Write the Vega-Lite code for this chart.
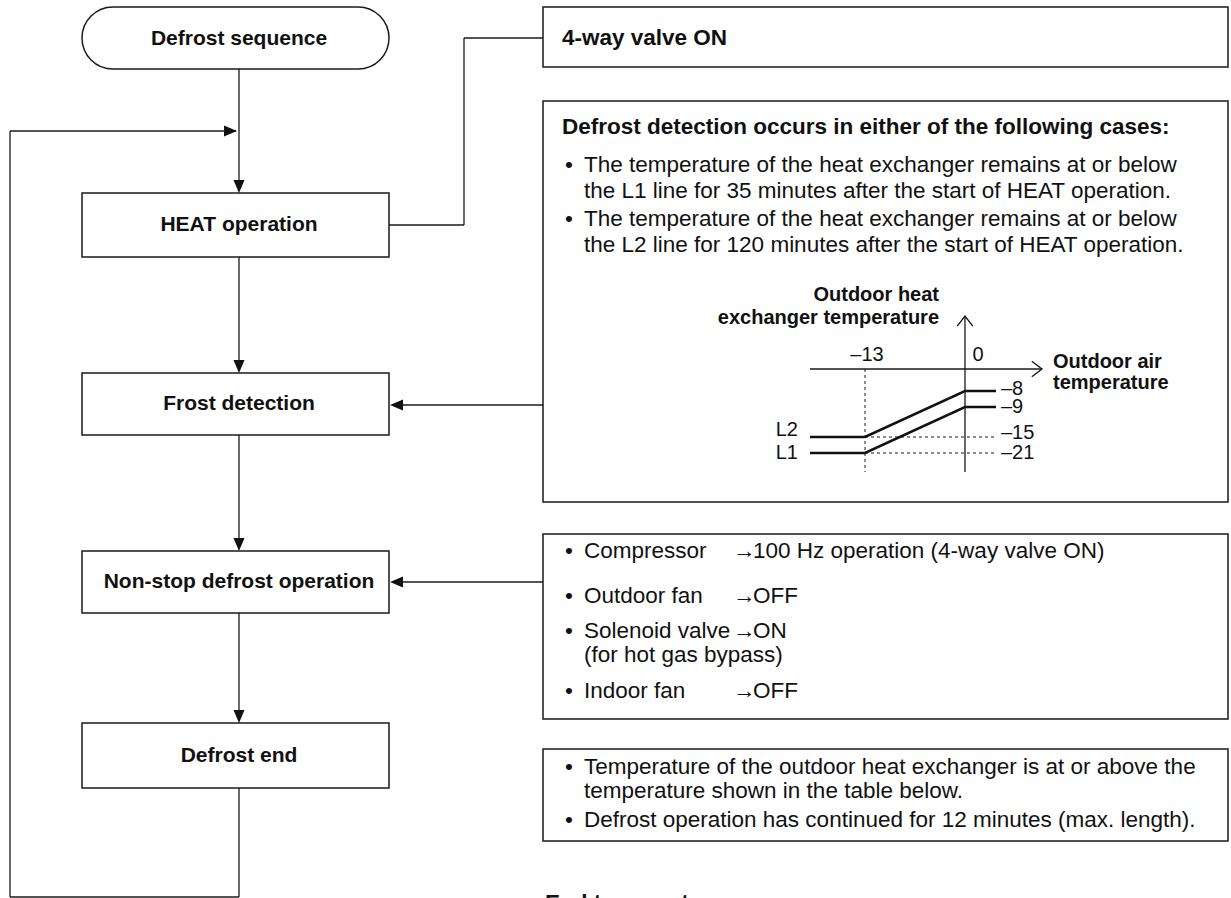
{
  "$schema": "https://vega.github.io/schema/vega-lite/v6.json",
  "width": 1231,
  "height": 898,
  "autosize": "none",
  "padding": 0,
  "background": "white",
  "config": {"view": {"stroke": null}, "text": {"font": "Liberation Sans", "color": "#111"}},
  "datasets": {
    "terminals": [{"name": "Defrost sequence", "x": 82, "x2": 389, "y": 7, "y2": 69}],
    "boxes": [
      {"name": "HEAT operation", "x": 82, "x2": 389, "y": 193, "y2": 257},
      {"name": "Frost detection", "x": 82, "x2": 389, "y": 373, "y2": 435},
      {"name": "Non-stop defrost operation", "x": 82, "x2": 389, "y": 551, "y2": 613},
      {"name": "Defrost end", "x": 82, "x2": 389, "y": 723, "y2": 788},
      {"name": "4-way valve", "x": 543, "x2": 1228, "y": 7, "y2": 67},
      {"name": "Defrost detection", "x": 543, "x2": 1228, "y": 101, "y2": 502},
      {"name": "Defrost actions", "x": 543, "x2": 1228, "y": 534, "y2": 719},
      {"name": "Defrost end conditions", "x": 543, "x2": 1228, "y": 749, "y2": 841}
    ],
    "links": [
      {"x": 239, "y": 69, "x2": 239, "y2": 190},
      {"x": 10, "y": 131, "x2": 236, "y2": 131},
      {"x": 10, "y": 131, "x2": 10, "y2": 897},
      {"x": 10, "y": 897, "x2": 239, "y2": 897},
      {"x": 239, "y": 788, "x2": 239, "y2": 897},
      {"x": 389, "y": 225, "x2": 464, "y2": 225},
      {"x": 464, "y": 225, "x2": 464, "y2": 38},
      {"x": 464, "y": 38, "x2": 543, "y2": 38},
      {"x": 239, "y": 257, "x2": 239, "y2": 370},
      {"x": 239, "y": 435, "x2": 239, "y2": 548},
      {"x": 239, "y": 613, "x2": 239, "y2": 720},
      {"x": 543, "y": 405, "x2": 393, "y2": 405},
      {"x": 543, "y": 582, "x2": 393, "y2": 582},
      {"x": 810, "y": 369, "x2": 1041, "y2": 369},
      {"x": 965, "y": 317, "x2": 965, "y2": 472}
    ],
    "arrows": [
      {"x": 239, "y": 193, "dir": "down"},
      {"x": 237, "y": 131, "dir": "right"},
      {"x": 239, "y": 373, "dir": "down"},
      {"x": 239, "y": 551, "dir": "down"},
      {"x": 239, "y": 723, "dir": "down"},
      {"x": 390, "y": 405, "dir": "left"},
      {"x": 390, "y": 582, "dir": "left"}
    ],
    "openArrows": [
      {"x": 965, "y": 316, "dir": "up"},
      {"x": 1042, "y": 369, "dir": "east"}
    ],
    "curves": [
      {"series": "L2", "x": 810, "y": 437},
      {"series": "L2", "x": 865, "y": 437},
      {"series": "L2", "x": 965, "y": 391},
      {"series": "L2", "x": 996, "y": 391},
      {"series": "L1", "x": 810, "y": 453},
      {"series": "L1", "x": 865, "y": 453},
      {"series": "L1", "x": 965, "y": 407},
      {"series": "L1", "x": 996, "y": 407}
    ],
    "guides": [
      {"x": 865, "y": 369, "x2": 865, "y2": 472},
      {"x": 865, "y": 437, "x2": 996, "y2": 437},
      {"x": 865, "y": 453, "x2": 996, "y2": 453}
    ],
    "boxLabels": [
      {"x": 239, "y": 39, "text": "Defrost sequence"},
      {"x": 239, "y": 225, "text": "HEAT operation"},
      {"x": 239, "y": 404, "text": "Frost detection"},
      {"x": 239, "y": 582, "text": "Non-stop defrost operation"},
      {"x": 239, "y": 756, "text": "Defrost end"}
    ],
    "headings": [
      {"x": 562, "y": 38, "text": "4-way valve ON"},
      {"x": 562, "y": 127, "text": "Defrost detection occurs in either of the following cases:"},
      {"x": 545, "y": 903, "text": "End temperature"}
    ],
    "bullets": [
      {"x": 569, "y": 165},
      {"x": 569, "y": 219},
      {"x": 569, "y": 551},
      {"x": 569, "y": 596},
      {"x": 569, "y": 631},
      {"x": 569, "y": 691},
      {"x": 569, "y": 767},
      {"x": 569, "y": 820}
    ],
    "body": [
      {"x": 584, "y": 165, "text": "The temperature of the heat exchanger remains at or below"},
      {"x": 584, "y": 191, "text": "the L1 line for 35 minutes after the start of HEAT operation."},
      {"x": 584, "y": 219, "text": "The temperature of the heat exchanger remains at or below"},
      {"x": 584, "y": 245, "text": "the L2 line for 120 minutes after the start of HEAT operation."},
      {"x": 584, "y": 551, "text": "Compressor"},
      {"x": 733, "y": 551, "text": "→"},
      {"x": 753, "y": 551, "text": "100 Hz operation (4-way valve ON)"},
      {"x": 584, "y": 596, "text": "Outdoor fan"},
      {"x": 733, "y": 596, "text": "→"},
      {"x": 753, "y": 596, "text": "OFF"},
      {"x": 584, "y": 631, "text": "Solenoid valve"},
      {"x": 733, "y": 631, "text": "→"},
      {"x": 753, "y": 631, "text": "ON"},
      {"x": 584, "y": 655, "text": "(for hot gas bypass)"},
      {"x": 584, "y": 691, "text": "Indoor fan"},
      {"x": 733, "y": 691, "text": "→"},
      {"x": 753, "y": 691, "text": "OFF"},
      {"x": 584, "y": 767, "text": "Temperature of the outdoor heat exchanger is at or above the"},
      {"x": 584, "y": 791, "text": "temperature shown in the table below."},
      {"x": 584, "y": 820, "text": "Defrost operation has continued for 12 minutes (max. length)."}
    ],
    "axisTicks": [
      {"x": 867, "y": 355, "text": "–13"},
      {"x": 978, "y": 355, "text": "0"}
    ],
    "levelLabels": [
      {"x": 1001, "y": 389, "text": "–8"},
      {"x": 1001, "y": 407, "text": "–9"},
      {"x": 1001, "y": 433, "text": "–15"},
      {"x": 1001, "y": 453, "text": "–21"}
    ],
    "seriesLabels": [
      {"x": 798, "y": 430, "text": "L2"},
      {"x": 798, "y": 453, "text": "L1"}
    ],
    "yTitle": [
      {"x": 939, "y": 295, "text": "Outdoor heat"},
      {"x": 939, "y": 318, "text": "exchanger temperature"}
    ],
    "xTitle": [
      {"x": 1053, "y": 362, "text": "Outdoor air"},
      {"x": 1053, "y": 383, "text": "temperature"}
    ]
  },
  "layer": [
    {
      "data": {"name": "boxes"},
      "mark": {"type": "rect", "fill": "white", "stroke": "#1a1a1a", "strokeWidth": 1.5},
      "encoding": {
        "x": {"field": "x", "type": "quantitative", "scale": {"domain": [0, 1231], "nice": false, "zero": false}, "axis": null},
        "x2": {"field": "x2"},
        "y": {"field": "y", "type": "quantitative", "scale": {"domain": [0, 898], "nice": false, "zero": false, "reverse": true}, "axis": null},
        "y2": {"field": "y2"}
      }
    },
    {
      "data": {"name": "terminals"},
      "mark": {"type": "rect", "fill": "white", "stroke": "#1a1a1a", "strokeWidth": 1.5, "cornerRadius": 31},
      "encoding": {
        "x": {"field": "x", "type": "quantitative", "axis": null},
        "x2": {"field": "x2"},
        "y": {"field": "y", "type": "quantitative", "axis": null},
        "y2": {"field": "y2"}
      }
    },
    {
      "data": {"name": "links"},
      "mark": {"type": "rule", "stroke": "#1a1a1a", "strokeWidth": 1.3},
      "encoding": {
        "x": {"field": "x", "type": "quantitative", "axis": null},
        "x2": {"field": "x2"},
        "y": {"field": "y", "type": "quantitative", "axis": null},
        "y2": {"field": "y2"}
      }
    },
    {
      "data": {"name": "guides"},
      "mark": {"type": "rule", "stroke": "#1a1a1a", "strokeWidth": 1, "strokeDash": [3, 3]},
      "encoding": {
        "x": {"field": "x", "type": "quantitative", "axis": null},
        "x2": {"field": "x2"},
        "y": {"field": "y", "type": "quantitative", "axis": null},
        "y2": {"field": "y2"}
      }
    },
    {
      "data": {"name": "curves"},
      "mark": {"type": "line", "stroke": "#111", "strokeWidth": 2.6, "strokeJoin": "miter"},
      "encoding": {
        "x": {"field": "x", "type": "quantitative", "axis": null},
        "y": {"field": "y", "type": "quantitative", "axis": null},
        "detail": {"field": "series", "type": "nominal"},
        "order": {"field": "x", "type": "quantitative"}
      }
    },
    {
      "data": {"name": "arrows"},
      "mark": {"type": "point", "filled": true, "fill": "#111", "strokeWidth": 0, "opacity": 1, "size": 169},
      "encoding": {
        "x": {"field": "x", "type": "quantitative", "axis": null},
        "y": {"field": "y", "type": "quantitative", "axis": null},
        "shape": {"field": "dir", "type": "nominal", "legend": null,
          "scale": {"domain": ["down", "right", "left", "up", "east"],
                    "range": ["M0,0L-0.85,-2L0.85,-2Z", "M0,0L-2,-0.85L-2,0.85Z", "M0,0L2,-0.85L2,0.85Z", "M-1.3,1.7L0,0L1.3,1.7", "M-1.7,-1.3L0,0L-1.7,1.3"]}}
      }
    },
    {
      "data": {"name": "openArrows"},
      "mark": {"type": "point", "filled": false, "stroke": "#111", "strokeWidth": 1.3, "opacity": 1, "size": 144},
      "encoding": {
        "x": {"field": "x", "type": "quantitative", "axis": null},
        "y": {"field": "y", "type": "quantitative", "axis": null},
        "shape": {"field": "dir", "type": "nominal", "legend": null,
          "scale": {"domain": ["down", "right", "left", "up", "east"],
                    "range": ["M0,0L-0.85,-2L0.85,-2Z", "M0,0L-2,-0.85L-2,0.85Z", "M0,0L2,-0.85L2,0.85Z", "M-1.3,1.7L0,0L1.3,1.7", "M-1.7,-1.3L0,0L-1.7,1.3"]}}
      }
    },
    {
      "data": {"name": "boxLabels"},
      "mark": {"type": "text", "fontWeight": "bold", "fontSize": 21, "align": "center", "baseline": "middle"},
      "encoding": {
        "x": {"field": "x", "type": "quantitative", "axis": null},
        "y": {"field": "y", "type": "quantitative", "axis": null},
        "text": {"field": "text"}
      }
    },
    {
      "data": {"name": "headings"},
      "mark": {"type": "text", "fontWeight": "bold", "fontSize": 22.5, "align": "left", "baseline": "middle", "clip": true},
      "encoding": {
        "x": {"field": "x", "type": "quantitative", "axis": null},
        "y": {"field": "y", "type": "quantitative", "axis": null},
        "text": {"field": "text"}
      }
    },
    {
      "data": {"name": "bullets"},
      "mark": {"type": "text", "fontSize": 22.5, "align": "center", "baseline": "middle", "text": "•"},
      "encoding": {
        "x": {"field": "x", "type": "quantitative", "axis": null},
        "y": {"field": "y", "type": "quantitative", "axis": null}
      }
    },
    {
      "data": {"name": "body"},
      "mark": {"type": "text", "fontSize": 22.5, "align": "left", "baseline": "middle"},
      "encoding": {
        "x": {"field": "x", "type": "quantitative", "axis": null},
        "y": {"field": "y", "type": "quantitative", "axis": null},
        "text": {"field": "text"}
      }
    },
    {
      "data": {"name": "axisTicks"},
      "mark": {"type": "text", "fontSize": 20, "align": "center", "baseline": "middle"},
      "encoding": {
        "x": {"field": "x", "type": "quantitative", "axis": null},
        "y": {"field": "y", "type": "quantitative", "axis": null},
        "text": {"field": "text"}
      }
    },
    {
      "data": {"name": "levelLabels"},
      "mark": {"type": "text", "fontSize": 20, "align": "left", "baseline": "middle"},
      "encoding": {
        "x": {"field": "x", "type": "quantitative", "axis": null},
        "y": {"field": "y", "type": "quantitative", "axis": null},
        "text": {"field": "text"}
      }
    },
    {
      "data": {"name": "seriesLabels"},
      "mark": {"type": "text", "fontSize": 20, "align": "right", "baseline": "middle"},
      "encoding": {
        "x": {"field": "x", "type": "quantitative", "axis": null},
        "y": {"field": "y", "type": "quantitative", "axis": null},
        "text": {"field": "text"}
      }
    },
    {
      "data": {"name": "yTitle"},
      "mark": {"type": "text", "fontSize": 20, "fontWeight": "bold", "align": "right", "baseline": "middle"},
      "encoding": {
        "x": {"field": "x", "type": "quantitative", "axis": null},
        "y": {"field": "y", "type": "quantitative", "axis": null},
        "text": {"field": "text"}
      }
    },
    {
      "data": {"name": "xTitle"},
      "mark": {"type": "text", "fontSize": 20, "fontWeight": "bold", "align": "left", "baseline": "middle"},
      "encoding": {
        "x": {"field": "x", "type": "quantitative", "axis": null},
        "y": {"field": "y", "type": "quantitative", "axis": null},
        "text": {"field": "text"}
      }
    }
  ]
}
